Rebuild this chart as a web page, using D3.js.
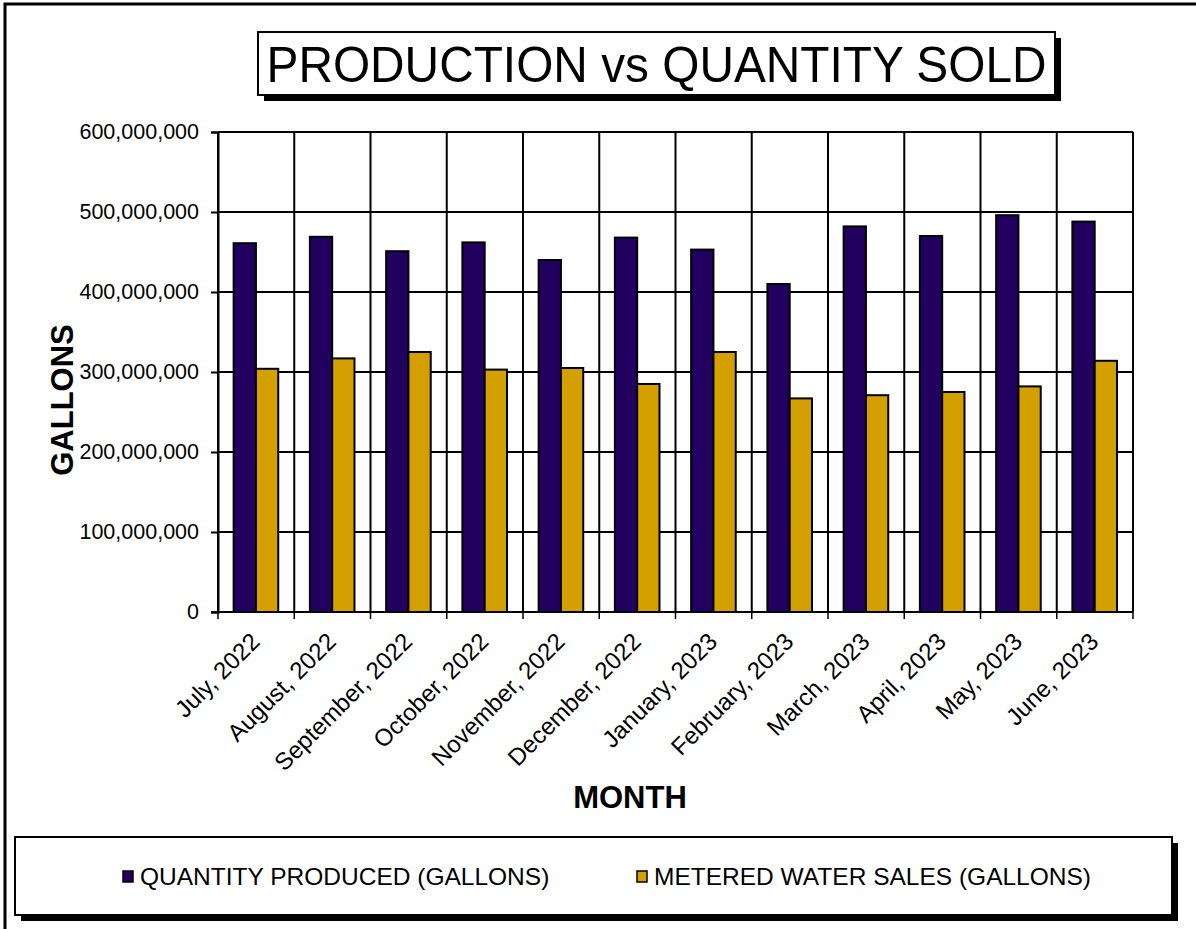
<!DOCTYPE html>
<html>
<head>
<meta charset="utf-8">
<script src="https://cdn.jsdelivr.net/npm/d3@7"></script>
<style>
  html, body { margin: 0; padding: 0; background: #fff; }
  svg { display: block; font-family: Arial, "Liberation Sans", sans-serif; }
</style>
</head>
<body>
<svg id="chart" width="1196" height="929"></svg>
<script>
// Monthly water production vs. metered sales, FY 2022-23
const months = ["July, 2022", "August, 2022", "September, 2022", "October, 2022",
  "November, 2022", "December, 2022", "January, 2023", "February, 2023",
  "March, 2023", "April, 2023", "May, 2023", "June, 2023"];
const seriesNames = ["QUANTITY PRODUCED (GALLONS)", "METERED WATER SALES (GALLONS)"];
const produced = [461000000, 469000000, 451000000, 462000000, 440000000, 468000000,
  453000000, 410000000, 482000000, 470000000, 496000000, 488000000];
const sold = [304000000, 317000000, 325000000, 303000000, 305000000, 285000000,
  325000000, 267000000, 271000000, 275000000, 282000000, 314000000];
const yTicks = [0, 100000000, 200000000, 300000000, 400000000, 500000000, 600000000];
const colors = ["#21005F", "#D4A000"];

const svg = d3.select("#chart");
const W = 1196, H = 929;
svg.append("rect").attr("width", W).attr("height", H).attr("fill", "#fff");

// outer chart frame
svg.append("rect").attr("x", 5).attr("y", 4).attr("width", 1210).attr("height", 950)
  .attr("fill", "none").attr("stroke", "#000").attr("stroke-width", 3);

const plot = { left: 218, right: 1133, top: 132, bottom: 612 };

const x = d3.scaleBand().domain(months).range([plot.left, plot.right]).padding(0);
const bw = x.bandwidth();
const xs = d3.scaleBand().domain([0, 1]).range([bw * 0.205, bw * 0.79]).padding(0);
const y = d3.scaleLinear().domain([0, 600000000]).range([plot.bottom, plot.top]);

// horizontal gridlines
svg.append("g").selectAll("line").data(yTicks).join("line")
  .attr("x1", plot.left).attr("x2", plot.right)
  .attr("y1", d => y(d)).attr("y2", d => y(d))
  .attr("stroke", "#000").attr("stroke-width", 2);

// vertical gridlines at category boundaries
const bounds = d3.range(months.length + 1).map(i => plot.left + i * bw);
svg.append("g").selectAll("line").data(bounds).join("line")
  .attr("x1", d => d).attr("x2", d => d)
  .attr("y1", plot.top).attr("y2", plot.bottom)
  .attr("stroke", "#000").attr("stroke-width", 2);

// bars
const data = months.map((m, i) => ({ m, vals: [produced[i], sold[i]] }));
const groups = svg.append("g").selectAll("g").data(data).join("g")
  .attr("transform", d => `translate(${x(d.m)},0)`);
groups.selectAll("rect").data(d => d.vals.map((v, k) => ({ v, k }))).join("rect")
  .attr("x", d => xs(d.k))
  .attr("width", xs.bandwidth())
  .attr("y", d => y(d.v))
  .attr("height", d => plot.bottom - y(d.v))
  .attr("fill", d => colors[d.k])
  .attr("stroke", "#000").attr("stroke-width", 2);

// y axis
const yAxis = d3.axisLeft(y).tickValues(yTicks).tickFormat(d3.format(","))
  .tickSize(7).tickPadding(12);
const yg = svg.append("g").attr("transform", `translate(${plot.left},0)`).call(yAxis);
yg.select(".domain").attr("stroke", "#000").attr("stroke-width", 2);
yg.selectAll(".tick line").attr("stroke", "#000").attr("stroke-width", 2);
yg.selectAll(".tick text").attr("font-size", 21.5).attr("fill", "#000")
  .attr("font-family", "Arial, 'Liberation Sans', sans-serif");

// x axis boundary ticks
svg.append("g").selectAll("line").data(bounds).join("line")
  .attr("x1", d => d).attr("x2", d => d)
  .attr("y1", plot.bottom).attr("y2", plot.bottom + 7)
  .attr("stroke", "#000").attr("stroke-width", 1.5);
svg.append("line").attr("x1", plot.left - 7).attr("x2", plot.right)
  .attr("y1", plot.bottom).attr("y2", plot.bottom)
  .attr("stroke", "#000").attr("stroke-width", 2);

// x labels rotated
svg.append("g").selectAll("text").data(months).join("text")
  .attr("transform", d => `translate(${x(d) + bw / 2 + 5},${plot.bottom + 31}) rotate(-45)`)
  .attr("text-anchor", "end")
  .attr("font-size", 24)
  .attr("fill", "#000")
  .text(d => d);

// axis titles
svg.append("text").attr("x", 630).attr("y", 808).attr("text-anchor", "middle")
  .attr("font-size", 31).attr("font-weight", "bold").text("MONTH");
svg.append("text").attr("transform", "translate(73,400) rotate(-90)")
  .attr("text-anchor", "middle").attr("font-size", 31).attr("font-weight", "bold")
  .text("GALLONS");

// title box with drop shadow
const tb = { x: 258, y: 32, w: 797, h: 63 };
svg.append("rect").attr("x", tb.x + 6).attr("y", tb.y + 6).attr("width", tb.w).attr("height", tb.h)
  .attr("fill", "#000");
svg.append("rect").attr("x", tb.x).attr("y", tb.y).attr("width", tb.w).attr("height", tb.h)
  .attr("fill", "#fff").attr("stroke", "#000").attr("stroke-width", 2);
svg.append("text").attr("x", tb.x + tb.w / 2).attr("y", tb.y + 50)
  .attr("text-anchor", "middle").attr("font-size", 50).attr("fill", "#000")
  .attr("textLength", 780).attr("lengthAdjust", "spacingAndGlyphs")
  .text("PRODUCTION vs QUANTITY SOLD");

// legend box with drop shadow
const lb = { x: 15, y: 837, w: 1157, h: 78 };
svg.append("rect").attr("x", lb.x + 6).attr("y", lb.y + 6).attr("width", lb.w).attr("height", lb.h)
  .attr("fill", "#000");
svg.append("rect").attr("x", lb.x).attr("y", lb.y).attr("width", lb.w).attr("height", lb.h)
  .attr("fill", "#fff").attr("stroke", "#000").attr("stroke-width", 2);
const legendX = [123, 637];
const lg = svg.append("g").selectAll("g").data(seriesNames).join("g")
  .attr("transform", (d, i) => `translate(${legendX[i]},0)`);
lg.append("rect").attr("x", 0).attr("y", 871).attr("width", 10).attr("height", 11)
  .attr("fill", (d, i) => colors[i]).attr("stroke", "#000").attr("stroke-width", 1.5);
lg.append("text").attr("x", 17).attr("y", 885).attr("font-size", 24.5).attr("fill", "#000")
  .text(d => d);
</script>
</body>
</html>
